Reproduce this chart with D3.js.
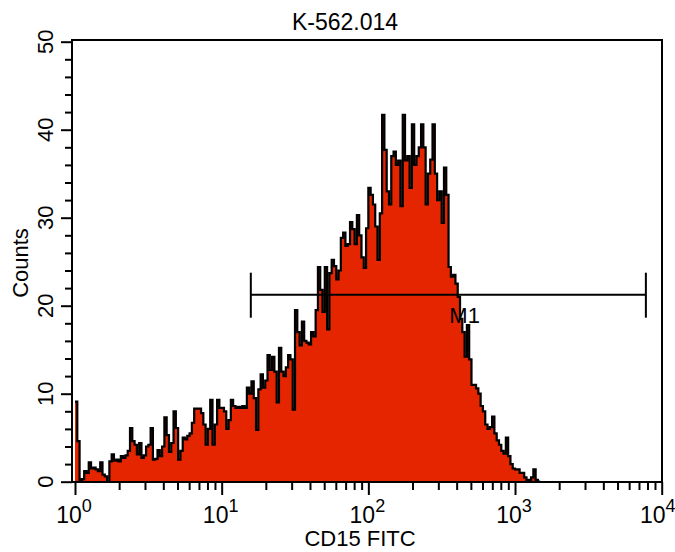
<!DOCTYPE html>
<html>
<head>
<meta charset="utf-8">
<script src="https://cdn.jsdelivr.net/npm/d3@7"></script>
<style>
    body { margin: 0; background: #fff; }
    text { font-family: "Liberation Sans", Arial, Helvetica, sans-serif; fill: #000; }
</style>
</head>
<body>
<script>
//main.js - K-562 CD15 FITC histogram

//histogram counts, 64 channels per decade starting at 10^0
var counts = [
    9.1, 4.6, 0.2, 0.3, 1.2, 1.0, 2.2, 1.5, 1.6, 1.4, 1.2, 2.2, 0.8, 0.6, 0, 2.3,
    3.1, 2.4, 2.5, 2.3, 2.9, 2.7, 3.0, 3.5, 6.1, 4.6, 4.2, 3.1, 4.4, 2.7, 3.0, 4.0,
    4.2, 6.1, 2.5, 2.6, 3.6, 2.9, 4.0, 7.3, 5.3, 3.4, 4.4, 8.0, 6.1, 2.5, 3.5, 5.0,
    4.8, 5.2, 5.5, 6.7, 8.3, 8.3, 8.3, 7.8, 6.5, 4.2, 6.0, 9.3, 4.2, 6.5, 9.3, 8.4,
    8.4, 8.0, 6.0, 7.0, 9.3, 8.6, 8.4, 8.5, 8.4, 8.6, 8.4, 10.7, 10.0, 11.4, 9.5, 5.9,
    10.5, 12.2, 10.7, 11.5, 14.4, 12.7, 14.2, 12.5, 9.0, 15.2, 12.5, 12.0, 13.0, 14.4, 13.9, 8.2,
    19.5, 17.0, 15.5, 18.2, 16.0, 15.8, 15.6, 17.0, 16.5, 19.5, 24.4, 21.8, 19.3, 24.4, 17.3, 23.7,
    25.2, 24.5, 23.0, 24.0, 27.7, 28.3, 26.8, 27.0, 29.5, 28.7, 27.0, 30.3, 28.0, 25.5, 24.3, 28.8,
    33.4, 32.6, 31.5, 29.0, 25.2, 30.5, 41.7, 37.7, 33.0, 31.5, 37.0, 37.5, 36.0, 36.5, 31.3, 41.7,
    36.5, 37.0, 33.4, 40.6, 36.0, 37.0, 38.0, 40.6, 38.0, 31.5, 35.0, 36.6, 40.6, 35.0, 32.0, 33.0,
    29.4, 35.7, 32.6, 24.4, 23.3, 23.5, 22.5, 21.0, 18.5, 17.0, 14.2, 17.8, 13.9, 11.0, 11.0, 10.6,
    10.0, 8.6, 8.0, 6.5, 6.0, 6.2, 7.4, 5.5, 4.7, 4.2, 3.5, 3.2, 5.0, 2.9, 2.0, 1.5,
    1.4, 1.4, 1.0, 1.0, 0.5, 0.2, 0.2, 0.5, 1.4, 0.2, 0
];
var channelsPerDecade = 64;

//axis ticks
var yMajor = [0, 10, 20, 30, 40, 50];
var yMinor = [2, 4, 6, 8, 12, 14, 16, 18, 22, 24, 26, 28, 32, 34, 36, 38, 42, 44, 46, 48];
var xExponents = [0, 1, 2, 3, 4];

//M1 marker: [start, end] and height in counts
var gateRange = [15.8, 7800];
var gateCount = 21.25;
var gateName = "M1";

var title = "K-562.014";
var xLabel = "CD15 FITC";
var yLabel = "Counts";

window.onload = function(){
    var w = 675, h = 552;
    var frame = {left: 72, right: 662, top: 40, bottom: 482};

    var svg = d3.select("body")
        .append("svg")
        .attr("width", w)
        .attr("height", h);

    var x = d3.scaleLog()
        .domain([1, 10000])
        .range([75, 661.7]);

    var y = d3.scaleLinear()
        .domain([0, 50])
        .range([481.7, 41.7]);

    //bin edges from channel number
    var bins = counts.map(function(c, i){
        return {x0: Math.pow(10, i / channelsPerDecade), count: c};
    });
    bins.push({x0: Math.pow(10, counts.length / channelsPerDecade), count: 0});

    var area = d3.area()
        .curve(d3.curveStepAfter)
        .x(function(d){ return x(d.x0); })
        .y0(y(0))
        .y1(function(d){ return y(d.count); });

    var line = d3.line()
        .curve(d3.curveStepAfter)
        .x(function(d){ return x(d.x0); })
        .y(function(d){ return y(d.count); });

    svg.append("path")
        .datum(bins)
        .attr("class", "hist")
        .attr("d", area)
        .style("fill", "#e52400")
        .style("stroke", "none");

    svg.append("path")
        .datum(bins)
        .attr("class", "histLine")
        .attr("d", line)
        .style("fill", "none")
        .style("stroke", "#000")
        .style("stroke-width", 2.2);

    //frame
    svg.append("rect")
        .attr("x", frame.left)
        .attr("y", frame.top)
        .attr("width", frame.right - frame.left)
        .attr("height", frame.bottom - frame.top)
        .style("fill", "none")
        .style("stroke", "#000")
        .style("stroke-width", 2);

    //y axis
    var yAxis = svg.append("g")
        .attr("class", "yaxis")
        .attr("transform", "translate(" + frame.left + ",0)");
    yAxis.append("g")
        .call(d3.axisLeft(y).tickValues(yMinor).tickSize(7).tickFormat(""))
        .call(function(g){ g.select(".domain").remove(); });
    yAxis.append("g")
        .call(d3.axisLeft(y).tickValues(yMajor).tickSize(11).tickFormat(""))
        .call(function(g){ g.select(".domain").remove(); });
    yAxis.selectAll("line").style("stroke", "#000").style("stroke-width", 2);

    svg.selectAll(".ylab")
        .data(yMajor)
        .enter()
        .append("text")
        .attr("class", "ylab")
        .attr("transform", function(d){ return "translate(53," + y(d) + ") rotate(-90)"; })
        .attr("text-anchor", "middle")
        .style("font-size", "22px")
        .text(function(d){ return d; });

    //x axis, minor ticks at 2..9 of each decade
    var xMinor = [];
    xExponents.slice(0, -1).forEach(function(e){
        for (var k = 2; k < 10; k++) xMinor.push(k * Math.pow(10, e));
    });
    var xAxis = svg.append("g")
        .attr("class", "xaxis")
        .attr("transform", "translate(0," + frame.bottom + ")");
    xAxis.append("g")
        .call(d3.axisBottom(x).tickValues(xMinor).tickSize(8).tickFormat(""))
        .call(function(g){ g.select(".domain").remove(); });
    xAxis.append("g")
        .call(d3.axisBottom(x).tickValues(xExponents.map(function(e){ return Math.pow(10, e); })).tickSize(13).tickFormat(""))
        .call(function(g){ g.select(".domain").remove(); });
    xAxis.selectAll("line").style("stroke", "#000").style("stroke-width", 2);

    var xLabs = svg.selectAll(".xlab")
        .data(xExponents)
        .enter()
        .append("text")
        .attr("class", "xlab")
        .attr("x", function(d, i){
            //last label pulled in so it stays inside the picture
            return x(Math.pow(10, d)) - (i === xExponents.length - 1 ? 4 : 1);
        })
        .attr("y", 523)
        .attr("text-anchor", "middle")
        .style("font-size", "23px");
    xLabs.append("tspan").text("10");
    xLabs.append("tspan")
        .attr("dy", -11)
        .style("font-size", "18px")
        .text(function(d){ return d; });

    //M1 gate
    var gy = y(gateCount), gx0 = x(gateRange[0]), gx1 = x(gateRange[1]);
    var gate = svg.append("g").attr("class", "gate")
        .style("stroke", "#000")
        .style("stroke-width", 2);
    gate.append("line").attr("x1", gx0).attr("x2", gx1).attr("y1", gy).attr("y2", gy);
    gate.append("line").attr("x1", gx0).attr("x2", gx0).attr("y1", gy - 22).attr("y2", gy + 23);
    gate.append("line").attr("x1", gx1).attr("x2", gx1).attr("y1", gy - 22).attr("y2", gy + 23);
    svg.append("text")
        .attr("x", x(Math.sqrt(gateRange[0] * gateRange[1])) + 1)
        .attr("y", gy + 28)
        .style("font-size", "22px")
        .text(gateName);

    //titles
    svg.append("text")
        .attr("x", 345)
        .attr("y", 30)
        .attr("text-anchor", "middle")
        .style("font-size", "23px")
        .text(title);

    svg.append("text")
        .attr("x", 360)
        .attr("y", 546)
        .attr("text-anchor", "middle")
        .style("font-size", "22px")
        .text(xLabel);

    svg.append("text")
        .attr("transform", "translate(28,263) rotate(-90)")
        .attr("text-anchor", "middle")
        .style("font-size", "22px")
        .text(yLabel);
};
</script>
</body>
</html>
